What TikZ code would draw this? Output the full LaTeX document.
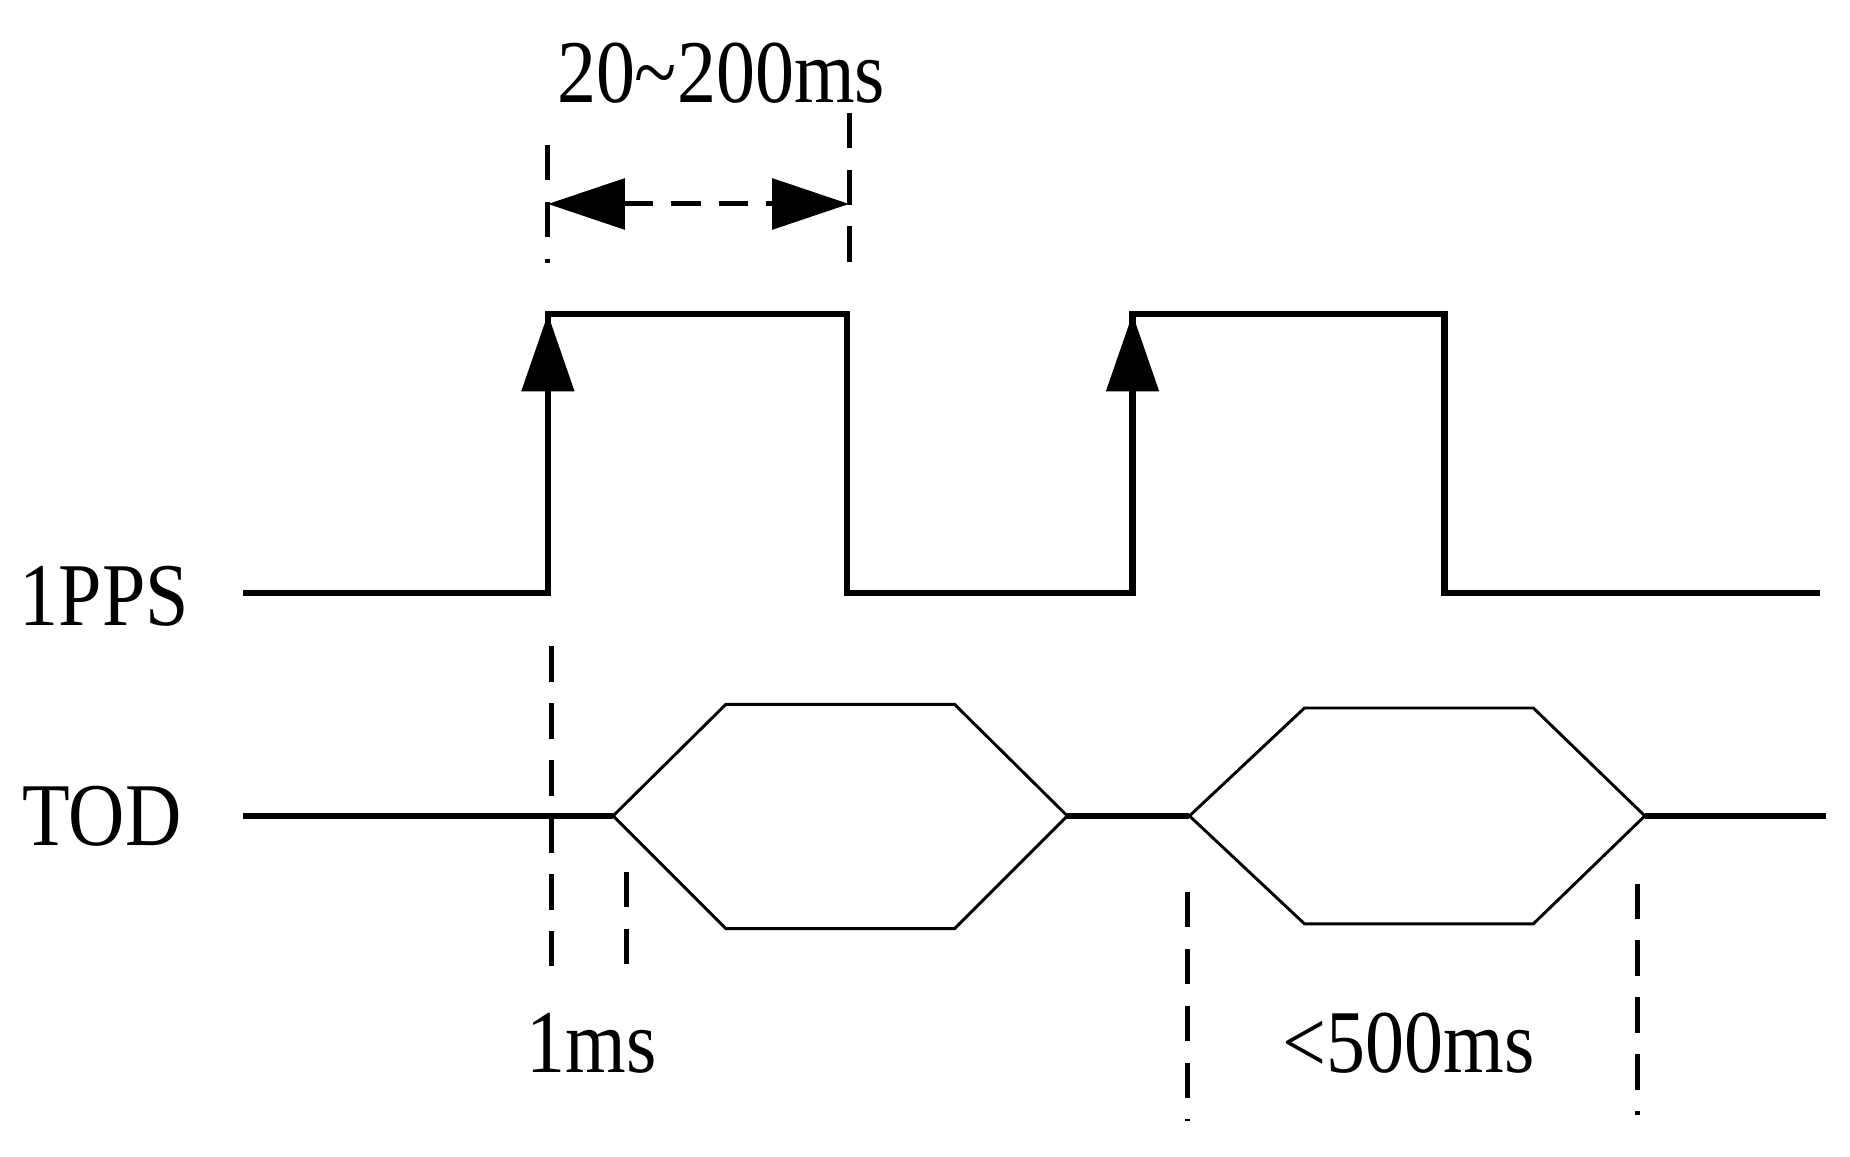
\documentclass[tikz,border=0pt]{standalone}
\usepackage{fontspec}
\setmainfont{Liberation Serif}
\usetikzlibrary{arrows.meta}
\begin{document}
\begin{tikzpicture}[x=0.02cm,y=-0.02cm,
  sig/.style={line width=3pt},
  hex/.style={line width=1.4pt},
  dsh/.style={line width=2.4pt,dash pattern=on 0.6cm off 0.36cm},
  lbl/.style={font=\fontsize{43}{50}\selectfont,xscale=0.87,inner sep=0pt},
  tip/.style={-{Triangle[length=1.3cm,width=0.9cm]}}]
\useasboundingbox (0,0) rectangle (1560,975.6);
% 1PPS
\coordinate (p0) at (205,500); \coordinate (r1b) at (462,500); \coordinate (r1t) at (462,265);
\coordinate (f1t) at (714,265); \coordinate (f1b) at (714,500);
\coordinate (r2b) at (955,500); \coordinate (r2t) at (955,265);
\coordinate (f2t) at (1218,265); \coordinate (f2b) at (1218,500); \coordinate (p1) at (1535,500);
\draw[sig] (p0)--(r1b)--(r1t)--(f1t)--(f1b)--(r2b)--(r2t)--(f2t)--(f2b)--(p1);
\draw[line width=0pt,tip] (462,400)--(r1t);
\draw[line width=0pt,tip] (955,400)--(r2t);
% TOD
\coordinate (t0) at (205,688); \coordinate (h1a) at (517,688); \coordinate (h1b) at (900,688);
\coordinate (h2a) at (1003,688); \coordinate (h2b) at (1387,688); \coordinate (t1) at (1540,688);
\draw[sig] (t0)--(h1a); \draw[sig] (h1b)--(h2a); \draw[sig] (h2b)--(t1);
\draw[hex] (h1a)--(612,594)--(805,594)--(h1b)--(805,783)--(612,783)--cycle;
\draw[hex] (h2a)--(1100,597)--(1293,597)--(h2b)--(1293,779)--(1100,779)--cycle;
% dashed guides
\draw[dsh] (462,122)--(462,222);
\draw[dsh] (716,95)--(716,222);
\draw[dsh] (465,545)--(465,826);
\draw[dsh] (528,735)--(528,830);
\draw[dsh] (1001,752)--(1001,945);
\draw[dsh] (1381,745)--(1381,940);
% dimension
\coordinate (da) at (462,172); \coordinate (db) at (716,172);
\draw[line width=2.4pt,dash pattern=on 0.5cm off 0.3cm,{Triangle[length=1.3cm,width=0.85cm]}-{Triangle[length=1.3cm,width=0.85cm]}] (da)--(db);
% labels
\node[lbl] (l1) at (608,62) {20\textasciitilde 200ms};
\node[lbl] (l2) at (88,503) {1PPS};
\node[lbl] (l3) at (86,688) {TOD};
\node[lbl] (l4) at (499,880) {1ms};
\node[lbl] (l5) at (1188,880) {<500ms};
\end{tikzpicture}
\end{document}
